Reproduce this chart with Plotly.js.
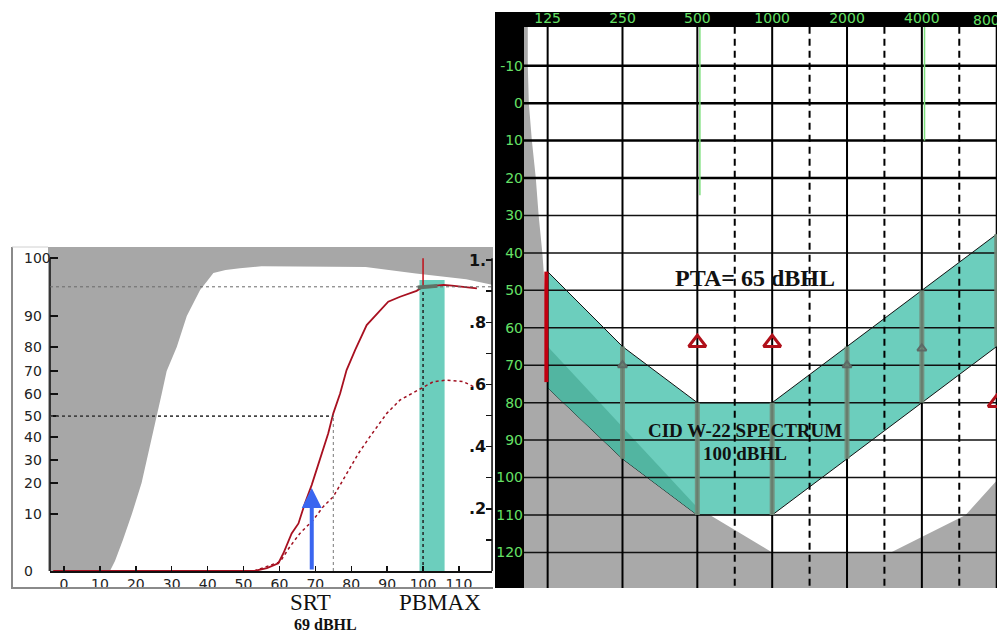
<!DOCTYPE html>
<html><head><meta charset="utf-8">
<script src="https://cdn.plot.ly/plotly-3.0.1.min.js"></script>
<style>html,body{margin:0;padding:0;background:#fff}#chart{width:997px;height:634px}</style>
</head><body><div id="chart"></div>
<script>
// ---------- Left panel: performance–intensity function ----------
const levelTicks = [0,10,20,30,40,50,60,70,80,90,100,110];
const levelTickText = ['0','10','20','30','40','50','60','70','80','90','100','110'];
const leftTickLabels = ['0','10','20','30','40','50','60','70','80','90','100'];
const leftTickPos = [0,0.183,0.283,0.357,0.431,0.498,0.569,0.643,0.720,0.820,1.006];
const rightTickVals = [0.1,0.2,0.3,0.4,0.5,0.6,0.7,0.8,0.9,1.0];
const rightTickText = ['','.2','','.4','','.6','','.8','','1.'];

// normal-hearing envelope (white region)
const envX = [12.8,14.2,16.4,18.9,21.6,23.1,24.5,25.8,27.2,28.6,31.4,34.2,37.9,40.1,41.6,45,49,55,74,84,98,112,119.5];
const envY = [0,0.032,0.1,0.183,0.283,0.357,0.431,0.498,0.569,0.643,0.720,0.820,0.904,0.936,0.958,0.968,0.974,0.98,0.98,0.978,0.957,0.938,0.92];

// measured PB (solid) curve
const pbX = [-3,53,56.5,59.7,61.1,63.4,65.3,67.1,69,71.3,73.6,75,76.9,78.7,81.1,84.3,87.6,90.3,93.6,98.2,100,102.9,105.7,108,112.2,115];
const pbY = [0,0,0.009,0.025,0.057,0.121,0.153,0.218,0.277,0.357,0.443,0.507,0.571,0.646,0.711,0.791,0.834,0.866,0.882,0.901,0.914,0.918,0.92,0.918,0.914,0.909];
// second (dotted) curve
const ppX = [53,60.2,62.9,65.7,69.4,72.2,75,78.7,82,85.2,89.9,93.6,99.2,102.9,106.6,111.2,114];
const ppY = [0,0.03,0.078,0.121,0.164,0.207,0.239,0.314,0.378,0.432,0.507,0.55,0.587,0.609,0.614,0.609,0.593];

const srtLevel = 69, srtTip = 0.267;
const halfLevel = 75, halfScore = 0.498;
const pbMaxLevel = 100, pbMaxScore = 0.914, pbMaxTop = 1.006;
const pbBandLow = 99, pbBandHigh = 106, pbBandTop = 0.936;
const pbDotX = [98.5,104], pbDotY = [0.912,0.917];

// ---------- Right panel: audiogram ----------
const freqs = [125,250,500,1000,2000,4000,8000];
const freqLabels = ['125','250','500','1000','2000','4000','8000'];
const midFreqs = [707,1414,2828,5657];
const dbTicks = [-10,0,10,20,30,40,50,60,70,80,90,100,110,120];
const dbTickText = ['-10','0','10','20','30','40','50','60','70','80','90','100','110','120'];
const thickDb = [-10,0,10,20];
const thinDb = [30,40,50,60,70,80,90,100,110,120];
const specUpper = [45,65,80,80,65,50,35];
const specLower = [76,95,110,110,95,80,65];
const stripX = [125,250,500], stripTop = [65,86.5,108], stripBottom = [76,95,110];
const grayX = [90,104,104,105,108,112,115,119,122,124,125,250,500,1000,3000,6000,8000,9000,9000,90];
const grayY = [-25,-25,-10,0,10,20,30,40,50,60,65,86.5,108,120,120,110,101,97,135,135];
const maskedX = [500,1000,8000], maskedY = [64,64,80];
const grayMarkX = [250,2000,4000], grayMarkY = [70,70,65.5];
const greenX = [512,4100], greenBottom = [24.6,10];
const redBarFreq = 123.5, redBarTop = 45, redBarBottom = 74.5;

// ---------- helpers ----------
const W = 997, H = 634;
const px = v => v / W, py = v => 1 - v / H;
const L = {xaxis:'x', yaxis:'y'};
const R = {xaxis:'x2', yaxis:'y3'};
const teal = '#6ccebd';

function segs(list, a, b, vertical){
  const x=[], y=[];
  list.forEach(v=>{ if(vertical){x.push(v,v,null);y.push(a,b,null);} else {x.push(a,b,null);y.push(v,v,null);} });
  return {x,y};
}

const traces = [];
// left panel
traces.push(Object.assign({x:envX,y:envY,mode:'lines',fill:'tozeroy',fillcolor:'#ffffff',line:{width:0},hoverinfo:'skip'},L));
traces.push(Object.assign({x:[pbBandLow,pbBandHigh,pbBandHigh,pbBandLow],y:[0,0,pbBandTop,pbBandTop],mode:'lines',fill:'toself',fillcolor:teal,line:{width:0}},L));
traces.push(Object.assign({x:[pbMaxLevel,pbMaxLevel],y:[0,pbMaxScore],mode:'lines',line:{color:'#222',width:1.5,dash:'dot'}},L));
traces.push(Object.assign({x:[pbMaxLevel,pbMaxLevel],y:[pbMaxScore,pbMaxTop],mode:'lines',line:{color:'#c0101a',width:1.5}},L));
traces.push(Object.assign({x:ppX,y:ppY,mode:'lines',line:{color:'#a01020',width:1.5,dash:'dot'}},L));
traces.push(Object.assign({x:pbX,y:pbY,mode:'lines',line:{color:'#a81020',width:1.8}},L));
traces.push(Object.assign({x:pbDotX,y:pbDotY,mode:'lines',line:{color:'#5f7466',width:4}},L));
// invisible anchor so the right-hand proportion axis is drawn
traces.push({x:[pbMaxLevel],y:[pbMaxScore],xaxis:'x',yaxis:'y2',mode:'markers',marker:{opacity:0},hoverinfo:'skip'});

// right panel
traces.push(Object.assign({x:grayX,y:grayY,mode:'lines',fill:'toself',fillcolor:'#a9a9a9',line:{width:0}},R));
traces.push(Object.assign({x:freqs.concat(freqs.slice().reverse()),y:specUpper.concat(specLower.slice().reverse()),mode:'lines',fill:'toself',fillcolor:teal,line:{color:'#111',width:1}},R));
traces.push(Object.assign({x:stripX.concat(stripX.slice().reverse()),y:stripTop.concat(stripBottom.slice().reverse()),mode:'lines',fill:'toself',fillcolor:'#52b5a1',line:{width:0}},R));
let g = segs(thinDb,80,10000,false);
traces.push(Object.assign({x:g.x,y:g.y,mode:'lines',line:{color:'#111',width:1.5}},R));
g = segs(thickDb,80,10000,false);
traces.push(Object.assign({x:g.x,y:g.y,mode:'lines',line:{color:'#000',width:2.5}},R));
g = segs(freqs,-30,140,true);
traces.push(Object.assign({x:g.x,y:g.y,mode:'lines',line:{color:'#000',width:2}},R));
g = segs(midFreqs,-30,140,true);
traces.push(Object.assign({x:g.x,y:g.y,mode:'lines',line:{color:'#000',width:2,dash:'7px,5px'}},R));
// vertical spectrum bars
const bx=[], by=[];
freqs.forEach((f,i)=>{ if(i>0){bx.push(f,f,null); by.push(specUpper[i],specLower[i],null);} });
traces.push(Object.assign({x:bx,y:by,mode:'lines',line:{color:'rgba(115,140,122,0.9)',width:5}},R));
traces.push(Object.assign({x:[redBarFreq,redBarFreq],y:[redBarTop,redBarBottom],mode:'lines',line:{color:'#c00010',width:4}},R));
const gx=[], gy=[];
greenX.forEach((f,i)=>{gx.push(f,f,null); gy.push(-30,greenBottom[i],null);});
traces.push(Object.assign({x:gx,y:gy,mode:'lines',line:{color:'#7ee07e',width:1.5}},R));
traces.push(Object.assign({x:grayMarkX,y:grayMarkY,mode:'markers',marker:{symbol:'triangle-up-open',size:8,color:'#5d6a66',line:{width:2,color:'#5d6a66'}}},R));
traces.push(Object.assign({x:maskedX,y:maskedY,mode:'markers',cliponaxis:false,marker:{symbol:'triangle-up-open',size:15,color:'#b0101a',line:{width:3,color:'#b0101a'}}},R));

const tickFont = {family:'DejaVu Sans',size:14,color:'#222'};
const greenFont = {family:'DejaVu Sans',size:14,color:'#66e066'};

const annotations = [];
leftTickLabels.forEach((t,i)=>annotations.push({xref:'paper',yref:'y',x:px(22),y:leftTickPos[i],xanchor:'left',yanchor:'middle',text:t,showarrow:false,font:tickFont}));
annotations.push({xref:'x',yref:'y',axref:'x',ayref:'y',x:srtLevel,y:srtTip,ax:srtLevel,ay:0,text:'',showarrow:true,arrowhead:2,arrowsize:1,arrowwidth:4,arrowcolor:'#3a66f0',standoff:0,startstandoff:0});
// last top frequency label (partly cut by the page edge, as in the original)
annotations.push({xref:'paper',yref:'paper',x:px(991),y:py(20),xanchor:'center',yanchor:'middle',text:freqLabels[6],showarrow:false,font:greenFont});
const serif = 'Liberation Serif, Times New Roman, serif';
const C = {xanchor:'center',yanchor:'middle',showarrow:false,xref:'paper',yref:'paper',borderpad:0};
annotations.push(Object.assign({x:px(310),y:py(589),yanchor:'top',text:'SRT',font:{family:serif,size:23,color:'#111'}},C,{yanchor:'top'}));
annotations.push(Object.assign({x:px(440),y:py(589),text:'PBMAX',font:{family:serif,size:23,color:'#111'}},C,{yanchor:'top'}));
annotations.push(Object.assign({x:px(325),y:py(634),text:'<b>69 dBHL</b>',font:{family:serif,size:16,color:'#111'}},C,{yanchor:'bottom'}));
annotations.push(Object.assign({x:px(755),y:py(278),text:'<b>PTA= 65 dBHL</b>',font:{family:serif,size:24,color:'#111'}},C));
annotations.push(Object.assign({x:px(745),y:py(430),text:'<b>CID W-22 SPECTRUM</b>',font:{family:serif,size:19,color:'#111'}},C));
annotations.push(Object.assign({x:px(745),y:py(453),text:'<b>100 dBHL</b>',font:{family:serif,size:19,color:'#111'}},C));

const shapes = [
  // audiogram black frame + white plot area
  {type:'rect',xref:'paper',yref:'paper',x0:px(495),x1:1,y0:py(588),y1:py(12),fillcolor:'#000',line:{width:0},layer:'below'},
  {type:'rect',xref:'paper',yref:'paper',x0:px(524),x1:1,y0:py(588),y1:py(27),fillcolor:'#fff',line:{width:0},layer:'below'},
  // left panel gray area + frame
  {type:'rect',xref:'paper',yref:'paper',x0:px(48),x1:px(493),y0:py(571),y1:py(247),fillcolor:'#a7a7a7',line:{width:0},layer:'below'},
  {type:'line',xref:'paper',yref:'paper',x0:px(12),x1:px(12),y0:py(589),y1:py(247),line:{color:'#8a8a8a',width:2}},
  {type:'line',xref:'paper',yref:'paper',x0:px(11),x1:px(493),y0:py(588),y1:py(588),line:{color:'#8a8a8a',width:2}},
  {type:'line',xref:'paper',yref:'paper',x0:px(12),x1:px(48),y0:py(247),y1:py(247),line:{color:'#d0d0d0',width:1}},
  // axis lines of left panel
  {type:'line',xref:'paper',yref:'y',x0:px(50),x1:px(50),y0:0,y1:pbMaxTop,line:{color:'#111',width:1.5}},
  {type:'line',xref:'paper',yref:'y',x0:px(492),x1:px(492),y0:0,y1:pbMaxTop,line:{color:'#111',width:1.5}},
  // reference dotted lines
  {type:'line',xref:'paper',yref:'y',x0:px(50),x1:px(492),y0:pbMaxScore,y1:pbMaxScore,line:{color:'#6a6a6a',width:1,dash:'dot'}},
  {type:'line',xref:'x',yref:'y',x0:-3.9,x1:halfLevel,y0:halfScore,y1:halfScore,line:{color:'#444',width:1.8,dash:'dot'}},
  {type:'line',xref:'x',yref:'y',x0:halfLevel,x1:halfLevel,y0:0,y1:halfScore,line:{color:'#777',width:1,dash:'dot'}}
];

const layout = {
  width:W, height:H, margin:{l:0,r:0,t:0,b:0},
  paper_bgcolor:'#fff', plot_bgcolor:'rgba(0,0,0,0)', showlegend:false,
  xaxis:{domain:[px(50),px(492)],range:[-3.9,119.2],anchor:'y',tickvals:levelTicks,ticktext:levelTickText,ticks:'inside',ticklen:5,tickwidth:1.5,tickcolor:'#111',showline:true,linecolor:'#111',linewidth:1.5,showgrid:false,zeroline:false,tickfont:tickFont},
  yaxis:{domain:[py(571),py(247)],range:[0,1.042],anchor:'x',tickvals:leftTickPos,ticks:'inside',ticklen:8,tickwidth:2,tickcolor:'#111',showticklabels:false,showline:false,showgrid:false,zeroline:false},
  yaxis2:{overlaying:'y',side:'right',anchor:'x',range:[0,1.042],tickmode:'array',tickvals:rightTickVals,ticktext:rightTickText,ticks:'inside',ticklen:6,tickwidth:1.5,tickcolor:'#111',ticklabelposition:'inside',showticklabels:true,showline:false,showgrid:false,zeroline:false,tickfont:{family:'DejaVu Sans',size:16,color:'#111',weight:'bold'}},
  xaxis2:{domain:[px(524),1],type:'log',range:[2.00178,3.9043],anchor:'y3',side:'top',tickvals:freqs,ticktext:freqLabels,ticks:'',showline:false,showgrid:false,zeroline:false,tickfont:greenFont},
  yaxis3:{domain:[py(588),py(27)],range:[129.5,-20.34],anchor:'x2',tickvals:dbTicks,ticktext:dbTickText,ticks:'',showline:false,showgrid:false,zeroline:false,tickfont:greenFont},
  shapes, annotations
};
Plotly.newPlot('chart', traces, layout, {staticPlot:true, displayModeBar:false});
</script></body></html>
